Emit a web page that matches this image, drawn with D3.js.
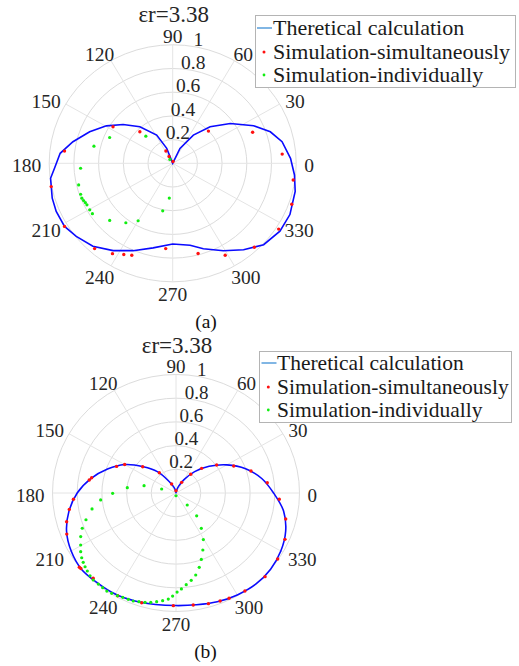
<!DOCTYPE html>
<html><head><meta charset="utf-8">
<script src="https://cdn.jsdelivr.net/npm/d3@7"></script>
<style>
body{margin:0;background:#fff}
svg{display:block}
</style>
</head><body>
<svg id="chart" width="519" height="666" font-family="'Liberation Serif', 'Times New Roman', Times, 'DejaVu Serif', serif"></svg>
<script>
// ---------- shared labels ----------
const titleText = "εr=3.38";
const thetaTicks = [0,30,60,90,120,150,180,210,240,270,300,330];
const rTicks = [0.2,0.4,0.6,0.8,1];
const rTickLabels = ["0.2","0.4","0.6","0.8","1"];
const seriesNames = ["Theretical calculation","Simulation-simultaneously","Simulation-individually"];
const panelLabels = ["(a)","(b)"];

// ---------- panel (a) ----------
const theoryA_theta = [2.5,11.6,18.6,25.8,35.8,45.5,54.9,64.9,90,111,118.6,130.8,140.8,149.5,158.4,167.3,174.7,182.5,187.3,196.8,203.3,211.3,218.3,227.3,236.8,246.5,257.5,270,281.5,289,299.1,308.2,317,326.6,335.5,346.5,354.3];
const theoryA_r     = [0.955,0.904,0.834,0.728,0.575,0.432,0.291,0.139,0,0.135,0.271,0.407,0.518,0.623,0.723,0.828,0.915,0.958,0.997,1.019,1.027,1.025,0.995,0.953,0.881,0.804,0.731,0.681,0.706,0.762,0.844,0.928,1.007,1.04,1.043,1.02,0.991];
const simA_theta = [80,117,118,135,147.5,173.3,191.3,211.3,228.7,237.4,242.8,246.9,265.5,285.1,298.7,313,327.1,340.3,351.8,5,22,43.2];
const simA_r     = [0.015,0.065,0.117,0.376,0.573,0.882,1.003,1.025,0.958,0.905,0.866,0.844,0.722,0.789,0.885,0.969,1.022,1.024,0.986,0.890,0.698,0.397];
const indA_theta = [125,133.5,156.9,167.2,183.2,193.5,199.3,201.8,203.5,205.1,206.8,210.3,213.2,223.4,232.9,240,258.6,264.6];
const indA_r     = [0.04,0.316,0.555,0.654,0.747,0.783,0.790,0.792,0.787,0.781,0.778,0.778,0.777,0.702,0.629,0.560,0.409,0.295];

// ---------- panel (b) ----------
const theoryB_theta = [0,10,20,30,40,50,60,70,80,90,100,110,120,130,140,150,160,170,180,190,200,210,220,230,240,250,260,270,280,290,300,310,320,330,340,350];
const theoryB_r     = [0.79,0.705,0.60,0.475,0.35,0.235,0.13,0.06,0.02,0,0.02,0.055,0.115,0.235,0.345,0.48,0.59,0.70,0.80,0.88,0.943,0.98,1.0,0.99,0.985,0.97,0.955,0.95,0.958,0.977,0.993,1.005,1.0,0.98,0.945,0.885];
const simB_theta = [90,115,128.3,140.6,150,155,169.3,171.1,183.6,189.1,195.3,201.4,218.7,219.6,227,241.4,253.3,268.7,278.4,285.7,291.4,295.8,304,315.6,325.9,336.1,346.1,356.4,6.7,17,26,35.6,45,53,63];
const simB_r     = [0.02,0.084,0.218,0.349,0.48,0.531,0.695,0.711,0.832,0.875,0.918,0.95,1.003,1.0,0.983,0.987,0.967,0.951,0.955,0.970,0.979,0.987,0.998,1.009,0.994,0.965,0.915,0.838,0.744,0.635,0.52,0.405,0.294,0.198,0.101];
const indB_theta = [270,163.7,166.5,173.5,180.3,185.5,191.2,197.2,201.4,205.5,209.6,212.7,215.6,217.9,220.2,222.5,225.1,227.6,230.7,233.4,235.9,238.4,241.3,243.9,246.7,249.2,251.9,254.8,257.5,260.3,263.2,266,268.2,270.6,273.1,276.1,279.5,283,286.7,290.1,294.3,299.4,304.5,311,312];
const indB_r     = [0.023,0.121,0.266,0.397,0.513,0.613,0.693,0.763,0.815,0.855,0.888,0.917,0.939,0.952,0.964,0.974,0.986,0.994,0.993,0.995,0.999,0.994,0.988,0.980,0.977,0.975,0.965,0.956,0.945,0.930,0.915,0.897,0.870,0.836,0.811,0.778,0.747,0.710,0.655,0.597,0.528,0.451,0.362,0.255,0.136];

// ---------- drawing ----------
const svg = d3.select("#chart");

function zip(t, r){ return t.map((d,i)=>({theta:d, r:r[i]})); }

const panels = [
  {cx:172.7, cy:163.3, titleY:21.5, labelX:206, labelY:328, tickFs:19.5,
   legend:{x:255,y:15,w:260,h:72,rows:[28,52,75],lineX0:257,lineX1:272,dotX:264,textX:273,fs:22},
   curve:d3.curveLinearClosed,
   theory:zip(theoryA_theta,theoryA_r), sim:zip(simA_theta,simA_r), ind:zip(indA_theta,indA_r)},
  {cx:176, cy:493, titleY:353, labelX:205.5, labelY:658, tickFs:19,
   legend:{x:259,y:351,w:252,h:71,rows:[363,387,410],lineX0:261.5,lineX1:276.5,dotX:268.3,textX:277,fs:21.5},
   curve:d3.curveCatmullRomClosed,
   theory:zip(theoryB_theta,theoryB_r), sim:zip(simB_theta,simB_r), ind:zip(indB_theta,indB_r)}
];

const RX = 123.5, RY = 118.5;
const rScaleX = d3.scaleLinear().domain([0,1]).range([0,RX]);
const rScaleY = d3.scaleLinear().domain([0,1]).range([0,RY]);
const angle = d3.scaleLinear().domain([0,360]).range([0,2*Math.PI]);

panels.forEach((p, pi) => {
  const g = svg.append("g").attr("transform", `translate(${p.cx},${p.cy})`);
  const px = d => rScaleX(d.r)*Math.cos(angle(d.theta));
  const py = d => -rScaleY(d.r)*Math.sin(angle(d.theta));

  g.selectAll("ellipse.ring").data(rTicks).enter().append("ellipse")
    .attr("rx", d=>rScaleX(d)).attr("ry", d=>rScaleY(d))
    .attr("fill","none").attr("stroke","#dcdcdc").attr("stroke-width",1);
  g.selectAll("line.spoke").data(thetaTicks).enter().append("line")
    .attr("x1",0).attr("y1",0)
    .attr("x2", t=>rScaleX(1)*Math.cos(angle(t)))
    .attr("y2", t=>-rScaleY(1)*Math.sin(angle(t)))
    .attr("stroke","#e4e4e4").attr("stroke-width",1);

  g.selectAll("text.tl").data(thetaTicks).enter().append("text")
    .attr("font-size", p.tickFs).attr("text-anchor","middle").attr("fill","#262626")
    .text(t=>String(t))
    .each(function(t){
      const w = this.getComputedTextLength();
      const h = 0.676*p.tickFs;
      const c = Math.cos(angle(t)), s = Math.sin(angle(t));
      const x = (RX+8)*c + (w/2)*c;
      const y = -(RY+4)*s - (h/2)*s + 2.5;
      d3.select(this).attr("x", x).attr("y", y + h/2);
    });

  g.selectAll("text.rl").data(rTicks).enter().append("text")
    .attr("font-size", p.tickFs).attr("text-anchor","middle").attr("fill","#262626")
    .attr("x", d=>rScaleX(d)*Math.cos(angle(78)))
    .attr("y", d=>-rScaleY(d)*Math.sin(angle(78)) - 8 + 0.338*p.tickFs)
    .text((d,i)=>rTickLabels[i]);

  const line = d3.line().x(px).y(py).curve(p.curve);
  g.append("path").datum(p.theory).attr("d", line)
    .attr("fill","none").attr("stroke","#0a0aff").attr("stroke-width",1.6);

  g.selectAll("circle.sim").data(p.sim).enter().append("circle")
    .attr("cx",px).attr("cy",py).attr("r",1.7).attr("fill","#ff1010");
  g.selectAll("circle.ind").data(p.ind).enter().append("circle")
    .attr("cx",px).attr("cy",py).attr("r",1.6).attr("fill","#11ee11");

  svg.append("text").attr("x", p.cx+1).attr("y", p.titleY)
    .attr("text-anchor","middle").attr("font-size",23).attr("fill","#262626").text(titleText);

  svg.append("text").attr("x", p.labelX).attr("y", p.labelY)
    .attr("text-anchor","middle").attr("font-size",19.5).attr("fill","#111").text(panelLabels[pi]);

  const L = p.legend;
  svg.append("rect").attr("x",L.x+0.5).attr("y",L.y+0.5).attr("width",L.w).attr("height",L.h)
    .attr("fill","#fff").attr("stroke","#b4b4b4").attr("stroke-width",1);
  svg.append("line").attr("x1",L.lineX0).attr("x2",L.lineX1).attr("y1",L.rows[0]).attr("y2",L.rows[0])
    .attr("stroke","#3d8ed6").attr("stroke-width",1.3);
  svg.append("circle").attr("cx",L.dotX).attr("cy",L.rows[1]).attr("r",1.5).attr("fill","#ff1010");
  svg.append("circle").attr("cx",L.dotX).attr("cy",L.rows[2]).attr("r",1.4).attr("fill","#11ee11");
  seriesNames.forEach((s,i)=>{
    svg.append("text").attr("x",L.textX).attr("y",L.rows[i]+0.32*L.fs)
      .attr("font-size",L.fs).attr("fill","#1a1a1a").text(s);
  });
});
</script>
</body></html>
